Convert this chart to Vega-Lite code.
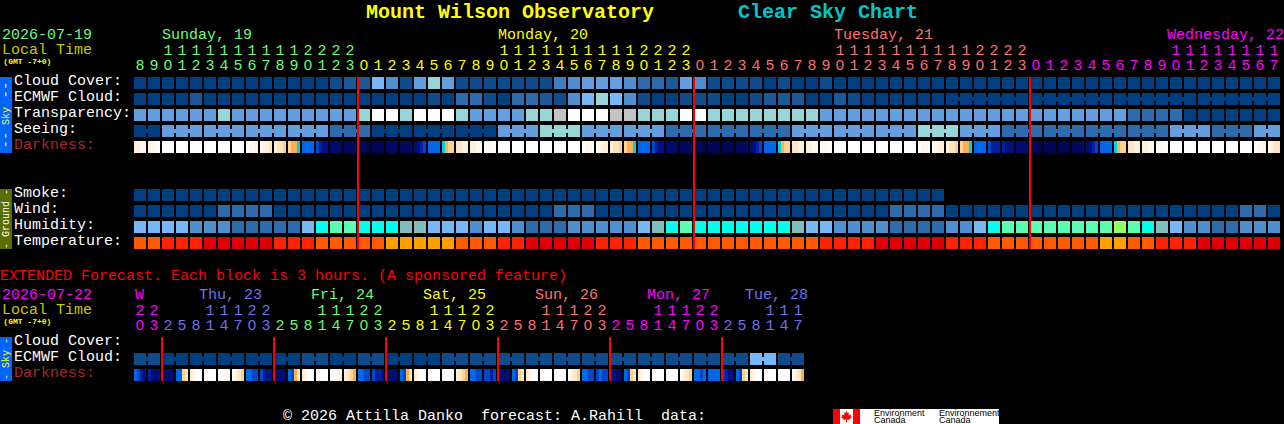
{"$schema":"https://vega.github.io/schema/vega-lite/v6.json","autosize":{"type":"none"},"width":1284,"height":424,"padding":0,"background":"#000000","config":{"view":{"stroke":null},"axis":{"disable":true}},
"datasets":{
"cells":[
{"c":0,"r":0,"k":"L0"},{"c":1,"r":0,"k":"L0"},{"c":2,"r":0,"k":"L0"},{"c":3,"r":0,"k":"L0"},{"c":4,"r":0,"k":"L0"},{"c":5,"r":0,"k":"L0"},{"c":6,"r":0,"k":"L0"},{"c":7,"r":0,"k":"L0"},{"c":8,"r":0,"k":"L0"},{"c":9,"r":0,"k":"L0"},{"c":10,"r":0,"k":"L0"},{"c":11,"r":0,"k":"L0"},{"c":12,"r":0,"k":"L0"},{"c":13,"r":0,"k":"L0"},{"c":14,"r":0,"k":"L1"},{"c":15,"r":0,"k":"L2"},{"c":16,"r":0,"k":"L2"},{"c":17,"r":0,"k":"L7"},{"c":18,"r":0,"k":"L5"},{"c":19,"r":0,"k":"L1"},{"c":20,"r":0,"k":"L6"},{"c":21,"r":0,"k":"L8"},{"c":22,"r":0,"k":"L6"},{"c":23,"r":0,"k":"L1"},{"c":24,"r":0,"k":"L1"},{"c":25,"r":0,"k":"L1"},{"c":26,"r":0,"k":"L1"},{"c":27,"r":0,"k":"L1"},{"c":28,"r":0,"k":"L1"},{"c":29,"r":0,"k":"L1"},{"c":30,"r":0,"k":"L4"},{"c":31,"r":0,"k":"L5"},{"c":32,"r":0,"k":"L6"},{"c":33,"r":0,"k":"L6"},{"c":34,"r":0,"k":"L6"},{"c":35,"r":0,"k":"L5"},{"c":36,"r":0,"k":"L3"},{"c":37,"r":0,"k":"L3"},{"c":38,"r":0,"k":"L2"},{"c":39,"r":0,"k":"L6"},{"c":40,"r":0,"k":"L5"},{"c":41,"r":0,"k":"L1"},{"c":42,"r":0,"k":"L1"},{"c":43,"r":0,"k":"L1"},{"c":44,"r":0,"k":"L1"},{"c":45,"r":0,"k":"L0"},{"c":46,"r":0,"k":"L1"},{"c":47,"r":0,"k":"L0"},{"c":48,"r":0,"k":"L0"},{"c":49,"r":0,"k":"L1"},{"c":50,"r":0,"k":"L0"},{"c":51,"r":0,"k":"L0"},{"c":52,"r":0,"k":"L0"},{"c":53,"r":0,"k":"L0"},{"c":54,"r":0,"k":"L0"},{"c":55,"r":0,"k":"L0"},{"c":56,"r":0,"k":"L0"},{"c":57,"r":0,"k":"L0"},{"c":58,"r":0,"k":"L0"},{"c":59,"r":0,"k":"L0"},{"c":60,"r":0,"k":"L0"},{"c":61,"r":0,"k":"L0"},{"c":62,"r":0,"k":"L0"},{"c":63,"r":0,"k":"L0"},{"c":64,"r":0,"k":"L0"},{"c":65,"r":0,"k":"L0"},{"c":66,"r":0,"k":"L0"},{"c":67,"r":0,"k":"L0"},{"c":68,"r":0,"k":"L0"},{"c":69,"r":0,"k":"L0"},{"c":70,"r":0,"k":"L0"},{"c":71,"r":0,"k":"L0"},{"c":72,"r":0,"k":"L0"},{"c":73,"r":0,"k":"L0"},{"c":74,"r":0,"k":"L0"},{"c":75,"r":0,"k":"L0"},{"c":76,"r":0,"k":"L0"},{"c":77,"r":0,"k":"L0"},{"c":78,"r":0,"k":"L0"},{"c":79,"r":0,"k":"L0"},{"c":80,"r":0,"k":"L0"},{"c":81,"r":0,"k":"L0"},
{"c":0,"r":1,"k":"L0"},{"c":1,"r":1,"k":"L0"},{"c":2,"r":1,"k":"L0"},{"c":3,"r":1,"k":"L0"},{"c":4,"r":1,"k":"L2"},{"c":5,"r":1,"k":"L0"},{"c":6,"r":1,"k":"L0"},{"c":7,"r":1,"k":"L0"},{"c":8,"r":1,"k":"L0"},{"c":9,"r":1,"k":"L0"},{"c":10,"r":1,"k":"L0"},{"c":11,"r":1,"k":"L0"},{"c":12,"r":1,"k":"L0"},{"c":13,"r":1,"k":"L0"},{"c":14,"r":1,"k":"L0"},{"c":15,"r":1,"k":"L0"},{"c":16,"r":1,"k":"L0"},{"c":17,"r":1,"k":"L0"},{"c":18,"r":1,"k":"L0"},{"c":19,"r":1,"k":"L0"},{"c":20,"r":1,"k":"L0"},{"c":21,"r":1,"k":"L1"},{"c":22,"r":1,"k":"L0"},{"c":23,"r":1,"k":"L3"},{"c":24,"r":1,"k":"L3"},{"c":25,"r":1,"k":"L1"},{"c":26,"r":1,"k":"L0"},{"c":27,"r":1,"k":"L3"},{"c":28,"r":1,"k":"L3"},{"c":29,"r":1,"k":"L2"},{"c":30,"r":1,"k":"L1"},{"c":31,"r":1,"k":"L5"},{"c":32,"r":1,"k":"L7"},{"c":33,"r":1,"k":"L8"},{"c":34,"r":1,"k":"L7"},{"c":35,"r":1,"k":"L5"},{"c":36,"r":1,"k":"L1"},{"c":37,"r":1,"k":"L0"},{"c":38,"r":1,"k":"L0"},{"c":39,"r":1,"k":"L1"},{"c":40,"r":1,"k":"L1"},{"c":41,"r":1,"k":"L1"},{"c":42,"r":1,"k":"L0"},{"c":43,"r":1,"k":"L0"},{"c":44,"r":1,"k":"L1"},{"c":45,"r":1,"k":"L2"},{"c":46,"r":1,"k":"L2"},{"c":47,"r":1,"k":"L2"},{"c":48,"r":1,"k":"L0"},{"c":49,"r":1,"k":"L0"},{"c":50,"r":1,"k":"L2"},{"c":51,"r":1,"k":"L1"},{"c":52,"r":1,"k":"L0"},{"c":53,"r":1,"k":"L0"},{"c":54,"r":1,"k":"L0"},{"c":55,"r":1,"k":"L0"},{"c":56,"r":1,"k":"L0"},{"c":57,"r":1,"k":"L0"},{"c":58,"r":1,"k":"L0","j":1},{"c":59,"r":1,"k":"L0","j":1},{"c":60,"r":1,"k":"L0","j":1},{"c":61,"r":1,"k":"L0","j":1},{"c":62,"r":1,"k":"L0","j":1},{"c":63,"r":1,"k":"L0"},{"c":64,"r":1,"k":"L0","j":1},{"c":65,"r":1,"k":"L0","j":1},{"c":66,"r":1,"k":"L0","j":1},{"c":67,"r":1,"k":"L0","j":1},{"c":68,"r":1,"k":"L0","j":1},{"c":69,"r":1,"k":"L0"},{"c":70,"r":1,"k":"L0","j":1},{"c":71,"r":1,"k":"L0","j":1},{"c":72,"r":1,"k":"L0","j":1},{"c":73,"r":1,"k":"L0","j":1},{"c":74,"r":1,"k":"L0","j":1},{"c":75,"r":1,"k":"L0"},{"c":76,"r":1,"k":"L0","j":1},{"c":77,"r":1,"k":"L0","j":1},{"c":78,"r":1,"k":"L0","j":1},{"c":79,"r":1,"k":"L0","j":1},{"c":80,"r":1,"k":"L0","j":1},{"c":81,"r":1,"k":"L0"},
{"c":0,"r":2,"k":"L6"},{"c":1,"r":2,"k":"L6"},{"c":2,"r":2,"k":"L6"},{"c":3,"r":2,"k":"L6"},{"c":4,"r":2,"k":"L6"},{"c":5,"r":2,"k":"L6"},{"c":6,"r":2,"k":"L8"},{"c":7,"r":2,"k":"L6"},{"c":8,"r":2,"k":"L6"},{"c":9,"r":2,"k":"L6"},{"c":10,"r":2,"k":"L6"},{"c":11,"r":2,"k":"L6"},{"c":12,"r":2,"k":"L6"},{"c":13,"r":2,"k":"L6"},{"c":14,"r":2,"k":"L6"},{"c":15,"r":2,"k":"L6"},{"c":16,"r":2,"k":"L8"},{"c":17,"r":2,"k":"L10"},{"c":18,"r":2,"k":"L10"},{"c":19,"r":2,"k":"L8"},{"c":20,"r":2,"k":"L10"},{"c":21,"r":2,"k":"L10"},{"c":22,"r":2,"k":"L10"},{"c":23,"r":2,"k":"L8"},{"c":24,"r":2,"k":"L6"},{"c":25,"r":2,"k":"L6"},{"c":26,"r":2,"k":"L6"},{"c":27,"r":2,"k":"L6"},{"c":28,"r":2,"k":"L8"},{"c":29,"r":2,"k":"L8"},{"c":30,"r":2,"k":"L9"},{"c":31,"r":2,"k":"L10"},{"c":32,"r":2,"k":"L10"},{"c":33,"r":2,"k":"L10"},{"c":34,"r":2,"k":"L9"},{"c":35,"r":2,"k":"L9"},{"c":36,"r":2,"k":"L8"},{"c":37,"r":2,"k":"L8"},{"c":38,"r":2,"k":"L8"},{"c":39,"r":2,"k":"L10"},{"c":40,"r":2,"k":"L10"},{"c":41,"r":2,"k":"L8"},{"c":42,"r":2,"k":"L8"},{"c":43,"r":2,"k":"L8"},{"c":44,"r":2,"k":"L8"},{"c":45,"r":2,"k":"L8"},{"c":46,"r":2,"k":"L8"},{"c":47,"r":2,"k":"L8"},{"c":48,"r":2,"k":"L8"},{"c":49,"r":2,"k":"L6"},{"c":50,"r":2,"k":"L6"},{"c":51,"r":2,"k":"L6"},{"c":52,"r":2,"k":"L6"},{"c":53,"r":2,"k":"L6"},{"c":54,"r":2,"k":"L6"},{"c":55,"r":2,"k":"L6"},{"c":56,"r":2,"k":"L6"},{"c":57,"r":2,"k":"L6"},{"c":58,"r":2,"k":"L6"},{"c":59,"r":2,"k":"L6"},{"c":60,"r":2,"k":"L6"},{"c":61,"r":2,"k":"L6"},{"c":62,"r":2,"k":"L6"},{"c":63,"r":2,"k":"L6"},{"c":64,"r":2,"k":"L6"},{"c":65,"r":2,"k":"L6"},{"c":66,"r":2,"k":"L6"},{"c":67,"r":2,"k":"L6"},{"c":68,"r":2,"k":"L6"},{"c":69,"r":2,"k":"L6"},{"c":70,"r":2,"k":"L6"},{"c":71,"r":2,"k":"L3"},{"c":72,"r":2,"k":"L3"},{"c":73,"r":2,"k":"L3"},{"c":74,"r":2,"k":"L3"},{"c":75,"r":2,"k":"L0"},{"c":76,"r":2,"k":"L0"},{"c":77,"r":2,"k":"L0"},{"c":78,"r":2,"k":"L0"},{"c":79,"r":2,"k":"L0"},{"c":80,"r":2,"k":"L0"},{"c":81,"r":2,"k":"L0"},
{"c":0,"r":3,"k":"L0","j":1},{"c":1,"r":3,"k":"L0"},{"c":2,"r":3,"k":"L6","j":1},{"c":3,"r":3,"k":"L6","j":1},{"c":4,"r":3,"k":"L6"},{"c":5,"r":3,"k":"L6","j":1},{"c":6,"r":3,"k":"L6","j":1},{"c":7,"r":3,"k":"L6"},{"c":8,"r":3,"k":"L6","j":1},{"c":9,"r":3,"k":"L6","j":1},{"c":10,"r":3,"k":"L6"},{"c":11,"r":3,"k":"L6","j":1},{"c":12,"r":3,"k":"L6","j":1},{"c":13,"r":3,"k":"L6"},{"c":14,"r":3,"k":"L3","j":1},{"c":15,"r":3,"k":"L3","j":1},{"c":16,"r":3,"k":"L3"},{"c":17,"r":3,"k":"L0","j":1},{"c":18,"r":3,"k":"L0","j":1},{"c":19,"r":3,"k":"L0"},{"c":20,"r":3,"k":"L0","j":1},{"c":21,"r":3,"k":"L0","j":1},{"c":22,"r":3,"k":"L0"},{"c":23,"r":3,"k":"L0","j":1},{"c":24,"r":3,"k":"L0","j":1},{"c":25,"r":3,"k":"L0"},{"c":26,"r":3,"k":"L6","j":1},{"c":27,"r":3,"k":"L6","j":1},{"c":28,"r":3,"k":"L6"},{"c":29,"r":3,"k":"L8","j":1},{"c":30,"r":3,"k":"L8","j":1},{"c":31,"r":3,"k":"L8"},{"c":32,"r":3,"k":"L6","j":1},{"c":33,"r":3,"k":"L6","j":1},{"c":34,"r":3,"k":"L6"},{"c":35,"r":3,"k":"L6","j":1},{"c":36,"r":3,"k":"L6","j":1},{"c":37,"r":3,"k":"L6"},{"c":38,"r":3,"k":"L3","j":1},{"c":39,"r":3,"k":"L3","j":1},{"c":40,"r":3,"k":"L3"},{"c":41,"r":3,"k":"L3","j":1},{"c":42,"r":3,"k":"L3","j":1},{"c":43,"r":3,"k":"L3"},{"c":44,"r":3,"k":"L3","j":1},{"c":45,"r":3,"k":"L3","j":1},{"c":46,"r":3,"k":"L3"},{"c":47,"r":3,"k":"L6","j":1},{"c":48,"r":3,"k":"L6","j":1},{"c":49,"r":3,"k":"L6"},{"c":50,"r":3,"k":"L6","j":1},{"c":51,"r":3,"k":"L6","j":1},{"c":52,"r":3,"k":"L6"},{"c":53,"r":3,"k":"L6","j":1},{"c":54,"r":3,"k":"L6","j":1},{"c":55,"r":3,"k":"L6"},{"c":56,"r":3,"k":"L8","j":1},{"c":57,"r":3,"k":"L8","j":1},{"c":58,"r":3,"k":"L8"},{"c":59,"r":3,"k":"L6","j":1},{"c":60,"r":3,"k":"L6","j":1},{"c":61,"r":3,"k":"L6"},{"c":62,"r":3,"k":"L3","j":1},{"c":63,"r":3,"k":"L3","j":1},{"c":64,"r":3,"k":"L3"},{"c":65,"r":3,"k":"L3","j":1},{"c":66,"r":3,"k":"L3","j":1},{"c":67,"r":3,"k":"L3"},{"c":68,"r":3,"k":"L3","j":1},{"c":69,"r":3,"k":"L3","j":1},{"c":70,"r":3,"k":"L3"},{"c":71,"r":3,"k":"L3","j":1},{"c":72,"r":3,"k":"L3","j":1},{"c":73,"r":3,"k":"L3"},{"c":74,"r":3,"k":"L6","j":1},{"c":75,"r":3,"k":"L6","j":1},{"c":76,"r":3,"k":"L6"},{"c":77,"r":3,"k":"L3","j":1},{"c":78,"r":3,"k":"L3","j":1},{"c":79,"r":3,"k":"L3"},{"c":80,"r":3,"k":"L6","j":1},{"c":81,"r":3,"k":"L6"},
{"c":2,"r":4,"k":"D0"},{"c":3,"r":4,"k":"D0"},{"c":4,"r":4,"k":"D0"},{"c":5,"r":4,"k":"D0"},{"c":6,"r":4,"k":"D0"},{"c":7,"r":4,"k":"D0"},{"c":12,"r":4,"k":"D7"},{"c":14,"r":4,"k":"D11"},{"c":15,"r":4,"k":"D12"},{"c":16,"r":4,"k":"D13"},{"c":17,"r":4,"k":"D13"},{"c":18,"r":4,"k":"D12"},{"c":19,"r":4,"k":"D12"},{"c":21,"r":4,"k":"D7"},{"c":26,"r":4,"k":"D0"},{"c":27,"r":4,"k":"D0"},{"c":28,"r":4,"k":"D0"},{"c":29,"r":4,"k":"D0"},{"c":30,"r":4,"k":"D0"},{"c":31,"r":4,"k":"D0"},{"c":36,"r":4,"k":"D7"},{"c":38,"r":4,"k":"D11"},{"c":39,"r":4,"k":"D12"},{"c":40,"r":4,"k":"D13"},{"c":41,"r":4,"k":"D13"},{"c":42,"r":4,"k":"D13"},{"c":43,"r":4,"k":"D12"},{"c":45,"r":4,"k":"D7"},{"c":50,"r":4,"k":"D0"},{"c":51,"r":4,"k":"D0"},{"c":52,"r":4,"k":"D0"},{"c":53,"r":4,"k":"D0"},{"c":54,"r":4,"k":"D0"},{"c":55,"r":4,"k":"D0"},{"c":60,"r":4,"k":"D7"},{"c":63,"r":4,"k":"D11"},{"c":64,"r":4,"k":"D13"},{"c":65,"r":4,"k":"D13"},{"c":66,"r":4,"k":"D13"},{"c":67,"r":4,"k":"D12"},{"c":69,"r":4,"k":"D7"},{"c":74,"r":4,"k":"D0"},{"c":75,"r":4,"k":"D0"},{"c":76,"r":4,"k":"D0"},{"c":77,"r":4,"k":"D0"},{"c":78,"r":4,"k":"D0"},{"c":79,"r":4,"k":"D0"},
{"c":0,"r":7,"k":"L0"},{"c":1,"r":7,"k":"L0"},{"c":2,"r":7,"k":"L0"},{"c":3,"r":7,"k":"L0"},{"c":4,"r":7,"k":"L0"},{"c":5,"r":7,"k":"L0"},{"c":6,"r":7,"k":"L0"},{"c":7,"r":7,"k":"L0"},{"c":8,"r":7,"k":"L0"},{"c":9,"r":7,"k":"L0"},{"c":10,"r":7,"k":"L0"},{"c":11,"r":7,"k":"L0"},{"c":12,"r":7,"k":"L0"},{"c":13,"r":7,"k":"L0"},{"c":14,"r":7,"k":"L0"},{"c":15,"r":7,"k":"L0"},{"c":16,"r":7,"k":"L0"},{"c":17,"r":7,"k":"L0"},{"c":18,"r":7,"k":"L0"},{"c":19,"r":7,"k":"L0"},{"c":20,"r":7,"k":"L0"},{"c":21,"r":7,"k":"L0"},{"c":22,"r":7,"k":"L0"},{"c":23,"r":7,"k":"L0"},{"c":24,"r":7,"k":"L0"},{"c":25,"r":7,"k":"L0"},{"c":26,"r":7,"k":"L0"},{"c":27,"r":7,"k":"L0"},{"c":28,"r":7,"k":"L0"},{"c":29,"r":7,"k":"L0"},{"c":30,"r":7,"k":"L0"},{"c":31,"r":7,"k":"L0"},{"c":32,"r":7,"k":"L0"},{"c":33,"r":7,"k":"L0"},{"c":34,"r":7,"k":"L0"},{"c":35,"r":7,"k":"L0"},{"c":36,"r":7,"k":"L0"},{"c":37,"r":7,"k":"L0"},{"c":38,"r":7,"k":"L0"},{"c":39,"r":7,"k":"L0"},{"c":40,"r":7,"k":"L0"},{"c":41,"r":7,"k":"L0"},{"c":42,"r":7,"k":"L0"},{"c":43,"r":7,"k":"L0"},{"c":44,"r":7,"k":"L0"},{"c":45,"r":7,"k":"L0"},{"c":46,"r":7,"k":"L0"},{"c":47,"r":7,"k":"L0"},{"c":48,"r":7,"k":"L0"},{"c":49,"r":7,"k":"L0"},{"c":50,"r":7,"k":"L0"},{"c":51,"r":7,"k":"L0"},{"c":52,"r":7,"k":"L0"},{"c":53,"r":7,"k":"L0"},{"c":54,"r":7,"k":"L0"},{"c":55,"r":7,"k":"L0"},{"c":56,"r":7,"k":"L0"},{"c":57,"r":7,"k":"L0"},
{"c":0,"r":8,"k":"L0"},{"c":1,"r":8,"k":"L0"},{"c":2,"r":8,"k":"L0"},{"c":3,"r":8,"k":"L0"},{"c":4,"r":8,"k":"L0"},{"c":5,"r":8,"k":"L0"},{"c":6,"r":8,"k":"L3"},{"c":7,"r":8,"k":"L3"},{"c":8,"r":8,"k":"L3"},{"c":9,"r":8,"k":"L3"},{"c":10,"r":8,"k":"L0"},{"c":11,"r":8,"k":"L0"},{"c":12,"r":8,"k":"L0"},{"c":13,"r":8,"k":"L0"},{"c":14,"r":8,"k":"L0"},{"c":15,"r":8,"k":"L0"},{"c":16,"r":8,"k":"L0"},{"c":17,"r":8,"k":"L0"},{"c":18,"r":8,"k":"L0"},{"c":19,"r":8,"k":"L0"},{"c":20,"r":8,"k":"L0"},{"c":21,"r":8,"k":"L0"},{"c":22,"r":8,"k":"L0"},{"c":23,"r":8,"k":"L0"},{"c":24,"r":8,"k":"L0"},{"c":25,"r":8,"k":"L0"},{"c":26,"r":8,"k":"L0"},{"c":27,"r":8,"k":"L0"},{"c":28,"r":8,"k":"L0"},{"c":29,"r":8,"k":"L0"},{"c":30,"r":8,"k":"L3"},{"c":31,"r":8,"k":"L3"},{"c":32,"r":8,"k":"L3"},{"c":33,"r":8,"k":"L0"},{"c":34,"r":8,"k":"L0"},{"c":35,"r":8,"k":"L0"},{"c":36,"r":8,"k":"L0"},{"c":37,"r":8,"k":"L0"},{"c":38,"r":8,"k":"L0"},{"c":39,"r":8,"k":"L0"},{"c":40,"r":8,"k":"L0"},{"c":41,"r":8,"k":"L0"},{"c":42,"r":8,"k":"L0"},{"c":43,"r":8,"k":"L0"},{"c":44,"r":8,"k":"L0"},{"c":45,"r":8,"k":"L0"},{"c":46,"r":8,"k":"L0"},{"c":47,"r":8,"k":"L0"},{"c":48,"r":8,"k":"L0"},{"c":49,"r":8,"k":"L0"},{"c":50,"r":8,"k":"L0"},{"c":51,"r":8,"k":"L0"},{"c":52,"r":8,"k":"L0"},{"c":53,"r":8,"k":"L0"},{"c":54,"r":8,"k":"L3"},{"c":55,"r":8,"k":"L3"},{"c":56,"r":8,"k":"L3"},{"c":57,"r":8,"k":"L3"},{"c":58,"r":8,"k":"L0"},{"c":59,"r":8,"k":"L0"},{"c":60,"r":8,"k":"L0"},{"c":61,"r":8,"k":"L0"},{"c":62,"r":8,"k":"L0"},{"c":63,"r":8,"k":"L0"},{"c":64,"r":8,"k":"L0"},{"c":65,"r":8,"k":"L0"},{"c":66,"r":8,"k":"L0"},{"c":67,"r":8,"k":"L0"},{"c":68,"r":8,"k":"L0"},{"c":69,"r":8,"k":"L0"},{"c":70,"r":8,"k":"L0"},{"c":71,"r":8,"k":"L0"},{"c":72,"r":8,"k":"L0"},{"c":73,"r":8,"k":"L0"},{"c":74,"r":8,"k":"L0"},{"c":75,"r":8,"k":"L0"},{"c":76,"r":8,"k":"L0"},{"c":77,"r":8,"k":"L0"},{"c":78,"r":8,"k":"L0"},{"c":79,"r":8,"k":"L3"},{"c":80,"r":8,"k":"L3"},{"c":81,"r":8,"k":"L0"},
{"c":0,"r":9,"k":"L7"},{"c":1,"r":9,"k":"L7"},{"c":2,"r":9,"k":"L7"},{"c":3,"r":9,"k":"L7"},{"c":4,"r":9,"k":"L5"},{"c":5,"r":9,"k":"L5"},{"c":6,"r":9,"k":"L5"},{"c":7,"r":9,"k":"L3"},{"c":8,"r":9,"k":"L3"},{"c":9,"r":9,"k":"L3"},{"c":10,"r":9,"k":"L3"},{"c":11,"r":9,"k":"L3"},{"c":12,"r":9,"k":"L7"},{"c":13,"r":9,"k":"H1"},{"c":14,"r":9,"k":"H2"},{"c":15,"r":9,"k":"H2"},{"c":16,"r":9,"k":"H1"},{"c":17,"r":9,"k":"H1"},{"c":18,"r":9,"k":"H1"},{"c":19,"r":9,"k":"H0"},{"c":20,"r":9,"k":"H0"},{"c":21,"r":9,"k":"L7"},{"c":22,"r":9,"k":"L7"},{"c":23,"r":9,"k":"L7"},{"c":24,"r":9,"k":"L5"},{"c":25,"r":9,"k":"L7"},{"c":26,"r":9,"k":"L7"},{"c":27,"r":9,"k":"L5"},{"c":28,"r":9,"k":"L3"},{"c":29,"r":9,"k":"L3"},{"c":30,"r":9,"k":"L3"},{"c":31,"r":9,"k":"L5"},{"c":32,"r":9,"k":"L5"},{"c":33,"r":9,"k":"L5"},{"c":34,"r":9,"k":"L5"},{"c":35,"r":9,"k":"L5"},{"c":36,"r":9,"k":"L7"},{"c":37,"r":9,"k":"H0"},{"c":38,"r":9,"k":"H1"},{"c":39,"r":9,"k":"H2"},{"c":40,"r":9,"k":"H1"},{"c":41,"r":9,"k":"H1"},{"c":42,"r":9,"k":"H1"},{"c":43,"r":9,"k":"H1"},{"c":44,"r":9,"k":"H1"},{"c":45,"r":9,"k":"H1"},{"c":46,"r":9,"k":"H1"},{"c":47,"r":9,"k":"H0"},{"c":48,"r":9,"k":"L7"},{"c":49,"r":9,"k":"L7"},{"c":50,"r":9,"k":"L5"},{"c":51,"r":9,"k":"L5"},{"c":52,"r":9,"k":"L5"},{"c":53,"r":9,"k":"L5"},{"c":54,"r":9,"k":"L3"},{"c":55,"r":9,"k":"L3"},{"c":56,"r":9,"k":"L3"},{"c":57,"r":9,"k":"L3"},{"c":58,"r":9,"k":"L5"},{"c":59,"r":9,"k":"L5"},{"c":60,"r":9,"k":"L7"},{"c":61,"r":9,"k":"H1"},{"c":62,"r":9,"k":"H2"},{"c":63,"r":9,"k":"H2"},{"c":64,"r":9,"k":"H2"},{"c":65,"r":9,"k":"H2"},{"c":66,"r":9,"k":"H2"},{"c":67,"r":9,"k":"H2"},{"c":68,"r":9,"k":"H2"},{"c":69,"r":9,"k":"H2"},{"c":70,"r":9,"k":"H3"},{"c":71,"r":9,"k":"H2"},{"c":72,"r":9,"k":"H1"},{"c":73,"r":9,"k":"H0"},{"c":74,"r":9,"k":"L7"},{"c":75,"r":9,"k":"L5"},{"c":76,"r":9,"k":"L5"},{"c":77,"r":9,"k":"L3"},{"c":78,"r":9,"k":"L3"},{"c":79,"r":9,"k":"L5"},{"c":80,"r":9,"k":"L5"},{"c":81,"r":9,"k":"L5"},
{"c":0,"r":10,"k":"T1"},{"c":1,"r":10,"k":"T1"},{"c":2,"r":10,"k":"T2"},{"c":3,"r":10,"k":"T2"},{"c":4,"r":10,"k":"T2"},{"c":5,"r":10,"k":"T3"},{"c":6,"r":10,"k":"T3"},{"c":7,"r":10,"k":"T3"},{"c":8,"r":10,"k":"T3"},{"c":9,"r":10,"k":"T3"},{"c":10,"r":10,"k":"T2"},{"c":11,"r":10,"k":"T2"},{"c":12,"r":10,"k":"T2"},{"c":13,"r":10,"k":"T1"},{"c":14,"r":10,"k":"T1"},{"c":15,"r":10,"k":"T1"},{"c":16,"r":10,"k":"T1"},{"c":17,"r":10,"k":"T1"},{"c":18,"r":10,"k":"T0"},{"c":19,"r":10,"k":"T0"},{"c":20,"r":10,"k":"T0"},{"c":21,"r":10,"k":"T0"},{"c":22,"r":10,"k":"T0"},{"c":23,"r":10,"k":"T1"},{"c":24,"r":10,"k":"T1"},{"c":25,"r":10,"k":"T1"},{"c":26,"r":10,"k":"T2"},{"c":27,"r":10,"k":"T2"},{"c":28,"r":10,"k":"T3"},{"c":29,"r":10,"k":"T3"},{"c":30,"r":10,"k":"T3"},{"c":31,"r":10,"k":"T3"},{"c":32,"r":10,"k":"T3"},{"c":33,"r":10,"k":"T2"},{"c":34,"r":10,"k":"T2"},{"c":35,"r":10,"k":"T2"},{"c":36,"r":10,"k":"T1"},{"c":37,"r":10,"k":"T1"},{"c":38,"r":10,"k":"T1"},{"c":39,"r":10,"k":"T1"},{"c":40,"r":10,"k":"T1"},{"c":41,"r":10,"k":"T1"},{"c":42,"r":10,"k":"T1"},{"c":43,"r":10,"k":"T1"},{"c":44,"r":10,"k":"T1"},{"c":45,"r":10,"k":"T1"},{"c":46,"r":10,"k":"T1"},{"c":47,"r":10,"k":"T1"},{"c":48,"r":10,"k":"T1"},{"c":49,"r":10,"k":"T2"},{"c":50,"r":10,"k":"T2"},{"c":51,"r":10,"k":"T2"},{"c":52,"r":10,"k":"T2"},{"c":53,"r":10,"k":"T3"},{"c":54,"r":10,"k":"T3"},{"c":55,"r":10,"k":"T3"},{"c":56,"r":10,"k":"T3"},{"c":57,"r":10,"k":"T3"},{"c":58,"r":10,"k":"T2"},{"c":59,"r":10,"k":"T2"},{"c":60,"r":10,"k":"T2"},{"c":61,"r":10,"k":"T1"},{"c":62,"r":10,"k":"T1"},{"c":63,"r":10,"k":"T1"},{"c":64,"r":10,"k":"T1"},{"c":65,"r":10,"k":"T1"},{"c":66,"r":10,"k":"T1"},{"c":67,"r":10,"k":"T1"},{"c":68,"r":10,"k":"T1"},{"c":69,"r":10,"k":"T0"},{"c":70,"r":10,"k":"T0"},{"c":71,"r":10,"k":"T1"},{"c":72,"r":10,"k":"T1"},{"c":73,"r":10,"k":"T2"},{"c":74,"r":10,"k":"T2"},{"c":75,"r":10,"k":"T2"},{"c":76,"r":10,"k":"T3"},{"c":77,"r":10,"k":"T3"},{"c":78,"r":10,"k":"T3"},{"c":79,"r":10,"k":"T3"},{"c":80,"r":10,"k":"T3"},{"c":81,"r":10,"k":"T3"},
{"c":0,"r":17.25,"k":"L1","j":1},{"c":1,"r":17.25,"k":"L1"},{"c":2,"r":17.25,"k":"L0","j":1},{"c":3,"r":17.25,"k":"L0"},{"c":4,"r":17.25,"k":"L0","j":1},{"c":5,"r":17.25,"k":"L0"},{"c":6,"r":17.25,"k":"L0","j":1},{"c":7,"r":17.25,"k":"L0"},{"c":8,"r":17.25,"k":"L0","j":1},{"c":9,"r":17.25,"k":"L0"},{"c":10,"r":17.25,"k":"L0","j":1},{"c":11,"r":17.25,"k":"L0"},{"c":12,"r":17.25,"k":"L1","j":1},{"c":13,"r":17.25,"k":"L1"},{"c":14,"r":17.25,"k":"L0","j":1},{"c":15,"r":17.25,"k":"L0"},{"c":16,"r":17.25,"k":"L1","j":1},{"c":17,"r":17.25,"k":"L1"},{"c":18,"r":17.25,"k":"L0","j":1},{"c":19,"r":17.25,"k":"L0"},{"c":20,"r":17.25,"k":"L0","j":1},{"c":21,"r":17.25,"k":"L0"},{"c":22,"r":17.25,"k":"L1","j":1},{"c":23,"r":17.25,"k":"L1"},{"c":24,"r":17.25,"k":"L1","j":1},{"c":25,"r":17.25,"k":"L1"},{"c":26,"r":17.25,"k":"L1","j":1},{"c":27,"r":17.25,"k":"L1"},{"c":28,"r":17.25,"k":"L1","j":1},{"c":29,"r":17.25,"k":"L1"},{"c":30,"r":17.25,"k":"L1","j":1},{"c":31,"r":17.25,"k":"L1"},{"c":32,"r":17.25,"k":"L1","j":1},{"c":33,"r":17.25,"k":"L1"},{"c":34,"r":17.25,"k":"L1","j":1},{"c":35,"r":17.25,"k":"L1"},{"c":36,"r":17.25,"k":"L1","j":1},{"c":37,"r":17.25,"k":"L1"},{"c":38,"r":17.25,"k":"L1","j":1},{"c":39,"r":17.25,"k":"L1"},{"c":40,"r":17.25,"k":"L1","j":1},{"c":41,"r":17.25,"k":"L1"},{"c":42,"r":17.25,"k":"L1","j":1},{"c":43,"r":17.25,"k":"L1"},{"c":44,"r":17.25,"k":"L7","j":1},{"c":45,"r":17.25,"k":"L7"},{"c":46,"r":17.25,"k":"L1","j":1},{"c":47,"r":17.25,"k":"L1"},
{"c":5,"r":18.25,"k":"D0"},{"c":13,"r":18.25,"k":"D0"},{"c":21,"r":18.25,"k":"D0"},{"c":22,"r":18.25,"k":"D0"},{"c":29,"r":18.25,"k":"D0"},{"c":30,"r":18.25,"k":"D0"},{"c":37,"r":18.25,"k":"D0"},{"c":38,"r":18.25,"k":"D0"},{"c":45,"r":18.25,"k":"D0"},{"c":46,"r":18.25,"k":"D0"},{"c":2,"r":18.25,"k":"D11"},{"c":10,"r":18.25,"k":"D11"},{"c":18,"r":18.25,"k":"D11"},{"c":41,"r":18.25,"k":"D7"}
],
"dusk":[
{"c":0,"r":4,"s":0,"k":"D2"},{"c":0,"r":4,"s":1,"k":"D2"},{"c":0,"r":4,"s":2,"k":"D1"},{"c":0,"r":4,"s":3,"k":"D1"},
{"c":1,"r":4,"s":0,"k":"D2"},{"c":1,"r":4,"s":1,"k":"D1"},{"c":1,"r":4,"s":2,"k":"D1"},{"c":1,"r":4,"s":3,"k":"D0"},
{"c":8,"r":4,"s":0,"k":"D0"},{"c":8,"r":4,"s":1,"k":"D1"},{"c":8,"r":4,"s":2,"k":"D1"},{"c":8,"r":4,"s":3,"k":"D2"},
{"c":9,"r":4,"s":0,"k":"D1"},{"c":9,"r":4,"s":1,"k":"D2"},{"c":9,"r":4,"s":2,"k":"D2"},{"c":9,"r":4,"s":3,"k":"D3"},
{"c":10,"r":4,"s":0,"k":"D2"},{"c":10,"r":4,"s":1,"k":"D3"},{"c":10,"r":4,"s":2,"k":"D3"},{"c":10,"r":4,"s":3,"k":"D4"},
{"c":11,"r":4,"s":0,"k":"D4"},{"c":11,"r":4,"s":1,"k":"D5"},{"c":11,"r":4,"s":2,"k":"D5"},{"c":11,"r":4,"s":3,"k":"D6"},
{"c":13,"r":4,"s":0,"k":"D8"},{"c":13,"r":4,"s":1,"k":"D9"},{"c":13,"r":4,"s":2,"k":"D10"},{"c":13,"r":4,"s":3,"k":"D10"},
{"c":20,"r":4,"s":0,"k":"D11"},{"c":20,"r":4,"s":1,"k":"D10"},{"c":20,"r":4,"s":2,"k":"D9"},{"c":20,"r":4,"s":3,"k":"D8"},
{"c":22,"r":4,"s":0,"k":"D6"},{"c":22,"r":4,"s":1,"k":"D5"},{"c":22,"r":4,"s":2,"k":"D4"},{"c":22,"r":4,"s":3,"k":"D4"},
{"c":23,"r":4,"s":0,"k":"D3"},{"c":23,"r":4,"s":1,"k":"D3"},{"c":23,"r":4,"s":2,"k":"D2"},{"c":23,"r":4,"s":3,"k":"D2"},
{"c":24,"r":4,"s":0,"k":"D2"},{"c":24,"r":4,"s":1,"k":"D2"},{"c":24,"r":4,"s":2,"k":"D1"},{"c":24,"r":4,"s":3,"k":"D1"},
{"c":25,"r":4,"s":0,"k":"D1"},{"c":25,"r":4,"s":1,"k":"D1"},{"c":25,"r":4,"s":2,"k":"D1"},{"c":25,"r":4,"s":3,"k":"D0"},
{"c":32,"r":4,"s":0,"k":"D0"},{"c":32,"r":4,"s":1,"k":"D1"},{"c":32,"r":4,"s":2,"k":"D1"},{"c":32,"r":4,"s":3,"k":"D1"},
{"c":33,"r":4,"s":0,"k":"D1"},{"c":33,"r":4,"s":1,"k":"D1"},{"c":33,"r":4,"s":2,"k":"D2"},{"c":33,"r":4,"s":3,"k":"D2"},
{"c":34,"r":4,"s":0,"k":"D2"},{"c":34,"r":4,"s":1,"k":"D3"},{"c":34,"r":4,"s":2,"k":"D3"},{"c":34,"r":4,"s":3,"k":"D4"},
{"c":35,"r":4,"s":0,"k":"D4"},{"c":35,"r":4,"s":1,"k":"D5"},{"c":35,"r":4,"s":2,"k":"D5"},{"c":35,"r":4,"s":3,"k":"D6"},
{"c":37,"r":4,"s":0,"k":"D8"},{"c":37,"r":4,"s":1,"k":"D9"},{"c":37,"r":4,"s":2,"k":"D10"},{"c":37,"r":4,"s":3,"k":"D10"},
{"c":44,"r":4,"s":0,"k":"D11"},{"c":44,"r":4,"s":1,"k":"D10"},{"c":44,"r":4,"s":2,"k":"D9"},{"c":44,"r":4,"s":3,"k":"D8"},
{"c":46,"r":4,"s":0,"k":"D6"},{"c":46,"r":4,"s":1,"k":"D5"},{"c":46,"r":4,"s":2,"k":"D4"},{"c":46,"r":4,"s":3,"k":"D4"},
{"c":47,"r":4,"s":0,"k":"D3"},{"c":47,"r":4,"s":1,"k":"D3"},{"c":47,"r":4,"s":2,"k":"D2"},{"c":47,"r":4,"s":3,"k":"D2"},
{"c":48,"r":4,"s":0,"k":"D2"},{"c":48,"r":4,"s":1,"k":"D2"},{"c":48,"r":4,"s":2,"k":"D1"},{"c":48,"r":4,"s":3,"k":"D1"},
{"c":49,"r":4,"s":0,"k":"D1"},{"c":49,"r":4,"s":1,"k":"D1"},{"c":49,"r":4,"s":2,"k":"D1"},{"c":49,"r":4,"s":3,"k":"D0"},
{"c":56,"r":4,"s":0,"k":"D0"},{"c":56,"r":4,"s":1,"k":"D1"},{"c":56,"r":4,"s":2,"k":"D1"},{"c":56,"r":4,"s":3,"k":"D1"},
{"c":57,"r":4,"s":0,"k":"D1"},{"c":57,"r":4,"s":1,"k":"D1"},{"c":57,"r":4,"s":2,"k":"D2"},{"c":57,"r":4,"s":3,"k":"D2"},
{"c":58,"r":4,"s":0,"k":"D2"},{"c":58,"r":4,"s":1,"k":"D3"},{"c":58,"r":4,"s":2,"k":"D3"},{"c":58,"r":4,"s":3,"k":"D4"},
{"c":59,"r":4,"s":0,"k":"D4"},{"c":59,"r":4,"s":1,"k":"D5"},{"c":59,"r":4,"s":2,"k":"D5"},{"c":59,"r":4,"s":3,"k":"D6"},
{"c":61,"r":4,"s":0,"k":"D8"},{"c":61,"r":4,"s":1,"k":"D9"},{"c":61,"r":4,"s":2,"k":"D9"},{"c":61,"r":4,"s":3,"k":"D9"},
{"c":62,"r":4,"s":0,"k":"D9"},{"c":62,"r":4,"s":1,"k":"D10"},{"c":62,"r":4,"s":2,"k":"D10"},{"c":62,"r":4,"s":3,"k":"D10"},
{"c":68,"r":4,"s":0,"k":"D11"},{"c":68,"r":4,"s":1,"k":"D10"},{"c":68,"r":4,"s":2,"k":"D9"},{"c":68,"r":4,"s":3,"k":"D8"},
{"c":70,"r":4,"s":0,"k":"D6"},{"c":70,"r":4,"s":1,"k":"D5"},{"c":70,"r":4,"s":2,"k":"D4"},{"c":70,"r":4,"s":3,"k":"D4"},
{"c":71,"r":4,"s":0,"k":"D3"},{"c":71,"r":4,"s":1,"k":"D3"},{"c":71,"r":4,"s":2,"k":"D2"},{"c":71,"r":4,"s":3,"k":"D2"},
{"c":72,"r":4,"s":0,"k":"D2"},{"c":72,"r":4,"s":1,"k":"D2"},{"c":72,"r":4,"s":2,"k":"D1"},{"c":72,"r":4,"s":3,"k":"D1"},
{"c":73,"r":4,"s":0,"k":"D1"},{"c":73,"r":4,"s":1,"k":"D1"},{"c":73,"r":4,"s":2,"k":"D1"},{"c":73,"r":4,"s":3,"k":"D0"},
{"c":80,"r":4,"s":0,"k":"D0"},{"c":80,"r":4,"s":1,"k":"D1"},{"c":80,"r":4,"s":2,"k":"D1"},{"c":80,"r":4,"s":3,"k":"D2"},
{"c":81,"r":4,"s":0,"k":"D1"},{"c":81,"r":4,"s":1,"k":"D2"},{"c":81,"r":4,"s":2,"k":"D3"},{"c":81,"r":4,"s":3,"k":"D3"},
{"c":0,"r":18.25,"s":0,"k":"D7"},{"c":0,"r":18.25,"s":1,"k":"D8"},{"c":0,"r":18.25,"s":2,"k":"D9"},{"c":0,"r":18.25,"s":3,"k":"D10"},
{"c":1,"r":18.25,"s":0,"k":"D9"},{"c":1,"r":18.25,"s":1,"k":"D10"},{"c":1,"r":18.25,"s":2,"k":"D11"},{"c":1,"r":18.25,"s":3,"k":"D10"},
{"c":3,"r":18.25,"s":0,"k":"D7"},{"c":3,"r":18.25,"s":1,"k":"D7"},{"c":3,"r":18.25,"s":2,"k":"D4"},{"c":3,"r":18.25,"s":3,"k":"D3"},
{"c":4,"r":18.25,"s":0,"k":"D2"},{"c":4,"r":18.25,"s":1,"k":"D1"},{"c":4,"r":18.25,"s":2,"k":"D0"},{"c":4,"r":18.25,"s":3,"k":"D0"},
{"c":6,"r":18.25,"s":0,"k":"D0"},{"c":6,"r":18.25,"s":1,"k":"D0"},{"c":6,"r":18.25,"s":2,"k":"D1"},{"c":6,"r":18.25,"s":3,"k":"D1"},
{"c":7,"r":18.25,"s":0,"k":"D1"},{"c":7,"r":18.25,"s":1,"k":"D2"},{"c":7,"r":18.25,"s":2,"k":"D3"},{"c":7,"r":18.25,"s":3,"k":"D4"},
{"c":8,"r":18.25,"s":0,"k":"D7"},{"c":8,"r":18.25,"s":1,"k":"D7"},{"c":8,"r":18.25,"s":2,"k":"D8"},{"c":8,"r":18.25,"s":3,"k":"D8"},
{"c":9,"r":18.25,"s":0,"k":"D8"},{"c":9,"r":18.25,"s":1,"k":"D9"},{"c":9,"r":18.25,"s":2,"k":"D10"},{"c":9,"r":18.25,"s":3,"k":"D10"},
{"c":11,"r":18.25,"s":0,"k":"D7"},{"c":11,"r":18.25,"s":1,"k":"D8"},{"c":11,"r":18.25,"s":2,"k":"D5"},{"c":11,"r":18.25,"s":3,"k":"D3"},
{"c":12,"r":18.25,"s":0,"k":"D2"},{"c":12,"r":18.25,"s":1,"k":"D1"},{"c":12,"r":18.25,"s":2,"k":"D0"},{"c":12,"r":18.25,"s":3,"k":"D0"},
{"c":14,"r":18.25,"s":0,"k":"D0"},{"c":14,"r":18.25,"s":1,"k":"D1"},{"c":14,"r":18.25,"s":2,"k":"D1"},{"c":14,"r":18.25,"s":3,"k":"D2"},
{"c":15,"r":18.25,"s":0,"k":"D2"},{"c":15,"r":18.25,"s":1,"k":"D3"},{"c":15,"r":18.25,"s":2,"k":"D4"},{"c":15,"r":18.25,"s":3,"k":"D5"},
{"c":16,"r":18.25,"s":0,"k":"D7"},{"c":16,"r":18.25,"s":1,"k":"D7"},{"c":16,"r":18.25,"s":2,"k":"D8"},{"c":16,"r":18.25,"s":3,"k":"D8"},
{"c":17,"r":18.25,"s":0,"k":"D8"},{"c":17,"r":18.25,"s":1,"k":"D9"},{"c":17,"r":18.25,"s":2,"k":"D9"},{"c":17,"r":18.25,"s":3,"k":"D10"},
{"c":19,"r":18.25,"s":0,"k":"D7"},{"c":19,"r":18.25,"s":1,"k":"D8"},{"c":19,"r":18.25,"s":2,"k":"D5"},{"c":19,"r":18.25,"s":3,"k":"D3"},
{"c":20,"r":18.25,"s":0,"k":"D2"},{"c":20,"r":18.25,"s":1,"k":"D1"},{"c":20,"r":18.25,"s":2,"k":"D0"},{"c":20,"r":18.25,"s":3,"k":"D0"},
{"c":23,"r":18.25,"s":0,"k":"D2"},{"c":23,"r":18.25,"s":1,"k":"D3"},{"c":23,"r":18.25,"s":2,"k":"D4"},{"c":23,"r":18.25,"s":3,"k":"D5"},
{"c":24,"r":18.25,"s":0,"k":"D7"},{"c":24,"r":18.25,"s":1,"k":"D7"},{"c":24,"r":18.25,"s":2,"k":"D8"},{"c":24,"r":18.25,"s":3,"k":"D8"},
{"c":25,"r":18.25,"s":0,"k":"D8"},{"c":25,"r":18.25,"s":1,"k":"D8"},{"c":25,"r":18.25,"s":2,"k":"D9"},{"c":25,"r":18.25,"s":3,"k":"D8"},
{"c":26,"r":18.25,"s":0,"k":"D10"},{"c":26,"r":18.25,"s":1,"k":"D11"},{"c":26,"r":18.25,"s":2,"k":"D11"},{"c":26,"r":18.25,"s":3,"k":"D10"},
{"c":27,"r":18.25,"s":0,"k":"D7"},{"c":27,"r":18.25,"s":1,"k":"D8"},{"c":27,"r":18.25,"s":2,"k":"D4"},{"c":27,"r":18.25,"s":3,"k":"D3"},
{"c":28,"r":18.25,"s":0,"k":"D2"},{"c":28,"r":18.25,"s":1,"k":"D1"},{"c":28,"r":18.25,"s":2,"k":"D0"},{"c":28,"r":18.25,"s":3,"k":"D0"},
{"c":31,"r":18.25,"s":0,"k":"D1"},{"c":31,"r":18.25,"s":1,"k":"D2"},{"c":31,"r":18.25,"s":2,"k":"D3"},{"c":31,"r":18.25,"s":3,"k":"D4"},
{"c":32,"r":18.25,"s":0,"k":"D7"},{"c":32,"r":18.25,"s":1,"k":"D7"},{"c":32,"r":18.25,"s":2,"k":"D8"},{"c":32,"r":18.25,"s":3,"k":"D8"},
{"c":33,"r":18.25,"s":0,"k":"D8"},{"c":33,"r":18.25,"s":1,"k":"D7"},{"c":33,"r":18.25,"s":2,"k":"D8"},{"c":33,"r":18.25,"s":3,"k":"D8"},
{"c":34,"r":18.25,"s":0,"k":"D9"},{"c":34,"r":18.25,"s":1,"k":"D10"},{"c":34,"r":18.25,"s":2,"k":"D11"},{"c":34,"r":18.25,"s":3,"k":"D11"},
{"c":35,"r":18.25,"s":0,"k":"D7"},{"c":35,"r":18.25,"s":1,"k":"D8"},{"c":35,"r":18.25,"s":2,"k":"D4"},{"c":35,"r":18.25,"s":3,"k":"D3"},
{"c":36,"r":18.25,"s":0,"k":"D2"},{"c":36,"r":18.25,"s":1,"k":"D1"},{"c":36,"r":18.25,"s":2,"k":"D0"},{"c":36,"r":18.25,"s":3,"k":"D0"},
{"c":39,"r":18.25,"s":0,"k":"D1"},{"c":39,"r":18.25,"s":1,"k":"D2"},{"c":39,"r":18.25,"s":2,"k":"D3"},{"c":39,"r":18.25,"s":3,"k":"D4"},
{"c":40,"r":18.25,"s":0,"k":"D7"},{"c":40,"r":18.25,"s":1,"k":"D7"},{"c":40,"r":18.25,"s":2,"k":"D8"},{"c":40,"r":18.25,"s":3,"k":"D7"},
{"c":42,"r":18.25,"s":0,"k":"D8"},{"c":42,"r":18.25,"s":1,"k":"D9"},{"c":42,"r":18.25,"s":2,"k":"D10"},{"c":42,"r":18.25,"s":3,"k":"D10"},
{"c":43,"r":18.25,"s":0,"k":"D7"},{"c":43,"r":18.25,"s":1,"k":"D8"},{"c":43,"r":18.25,"s":2,"k":"D4"},{"c":43,"r":18.25,"s":3,"k":"D3"},
{"c":44,"r":18.25,"s":0,"k":"D2"},{"c":44,"r":18.25,"s":1,"k":"D1"},{"c":44,"r":18.25,"s":2,"k":"D0"},{"c":44,"r":18.25,"s":3,"k":"D0"},
{"c":47,"r":18.25,"s":0,"k":"D1"},{"c":47,"r":18.25,"s":1,"k":"D2"},{"c":47,"r":18.25,"s":2,"k":"D3"},{"c":47,"r":18.25,"s":3,"k":"D5"}
],
"bands":[{"c":-9.5714286,"r":-0.375,"r2":4.375,"k":"blue"},{"c":-9.5714286,"r":6.625,"r2":10.375,"k":"olive"},{"c":-9.5714286,"r":15.875,"r2":18.625,"k":"blue"}],
"nights":[{"c":16,"r":-0.375,"r2":10.375,"k":"red"},{"c":40,"r":-0.375,"r2":10.375,"k":"red"},{"c":64,"r":-0.375,"r2":10.375,"k":"red"},{"c":2,"r":15.875,"r2":18.625,"k":"red"},{"c":10,"r":15.875,"r2":18.625,"k":"red"},{"c":18,"r":15.875,"r2":18.625,"k":"red"},{"c":26,"r":15.875,"r2":18.625,"k":"red"},{"c":34,"r":15.875,"r2":18.625,"k":"red"},{"c":42,"r":15.875,"r2":18.625,"k":"red"}],
"logo":[{"c":49.5,"c2":61.3571429,"r":20.375,"r2":21.3125,"k":"white"},{"c":49.5,"c2":50,"r":20.375,"r2":21.3125,"k":"red"},{"c":50.9285714,"c2":51.4285714,"r":20.375,"r2":21.3125,"k":"red"}],
"leaf":[{"c":50.464,"r":20.84,"k":"red"}],
"hours":[
{"c":2,"r":-2.0625,"t":"1","k":"sun"},{"c":3,"r":-2.0625,"t":"1","k":"sun"},{"c":4,"r":-2.0625,"t":"1","k":"sun"},{"c":5,"r":-2.0625,"t":"1","k":"sun"},{"c":6,"r":-2.0625,"t":"1","k":"sun"},{"c":7,"r":-2.0625,"t":"1","k":"sun"},{"c":8,"r":-2.0625,"t":"1","k":"sun"},{"c":9,"r":-2.0625,"t":"1","k":"sun"},{"c":10,"r":-2.0625,"t":"1","k":"sun"},{"c":11,"r":-2.0625,"t":"1","k":"sun"},{"c":12,"r":-2.0625,"t":"2","k":"sun"},{"c":13,"r":-2.0625,"t":"2","k":"sun"},{"c":14,"r":-2.0625,"t":"2","k":"sun"},{"c":15,"r":-2.0625,"t":"2","k":"sun"},
{"c":26,"r":-2.0625,"t":"1","k":"mon"},{"c":27,"r":-2.0625,"t":"1","k":"mon"},{"c":28,"r":-2.0625,"t":"1","k":"mon"},{"c":29,"r":-2.0625,"t":"1","k":"mon"},{"c":30,"r":-2.0625,"t":"1","k":"mon"},{"c":31,"r":-2.0625,"t":"1","k":"mon"},{"c":32,"r":-2.0625,"t":"1","k":"mon"},{"c":33,"r":-2.0625,"t":"1","k":"mon"},{"c":34,"r":-2.0625,"t":"1","k":"mon"},{"c":35,"r":-2.0625,"t":"1","k":"mon"},{"c":36,"r":-2.0625,"t":"2","k":"mon"},{"c":37,"r":-2.0625,"t":"2","k":"mon"},{"c":38,"r":-2.0625,"t":"2","k":"mon"},{"c":39,"r":-2.0625,"t":"2","k":"mon"},
{"c":50,"r":-2.0625,"t":"1","k":"tue"},{"c":51,"r":-2.0625,"t":"1","k":"tue"},{"c":52,"r":-2.0625,"t":"1","k":"tue"},{"c":53,"r":-2.0625,"t":"1","k":"tue"},{"c":54,"r":-2.0625,"t":"1","k":"tue"},{"c":55,"r":-2.0625,"t":"1","k":"tue"},{"c":56,"r":-2.0625,"t":"1","k":"tue"},{"c":57,"r":-2.0625,"t":"1","k":"tue"},{"c":58,"r":-2.0625,"t":"1","k":"tue"},{"c":59,"r":-2.0625,"t":"1","k":"tue"},{"c":60,"r":-2.0625,"t":"2","k":"tue"},{"c":61,"r":-2.0625,"t":"2","k":"tue"},{"c":62,"r":-2.0625,"t":"2","k":"tue"},{"c":63,"r":-2.0625,"t":"2","k":"tue"},
{"c":74,"r":-2.0625,"t":"1","k":"wed"},{"c":75,"r":-2.0625,"t":"1","k":"wed"},{"c":76,"r":-2.0625,"t":"1","k":"wed"},{"c":77,"r":-2.0625,"t":"1","k":"wed"},{"c":78,"r":-2.0625,"t":"1","k":"wed"},{"c":79,"r":-2.0625,"t":"1","k":"wed"},{"c":80,"r":-2.0625,"t":"1","k":"wed"},{"c":81,"r":-2.0625,"t":"1","k":"wed"},
{"c":0,"r":-1.125,"t":"8","k":"sun"},{"c":1,"r":-1.125,"t":"9","k":"sun"},{"c":2,"r":-1.125,"t":"0","k":"sun"},{"c":3,"r":-1.125,"t":"1","k":"sun"},{"c":4,"r":-1.125,"t":"2","k":"sun"},{"c":5,"r":-1.125,"t":"3","k":"sun"},{"c":6,"r":-1.125,"t":"4","k":"sun"},{"c":7,"r":-1.125,"t":"5","k":"sun"},{"c":8,"r":-1.125,"t":"6","k":"sun"},{"c":9,"r":-1.125,"t":"7","k":"sun"},{"c":10,"r":-1.125,"t":"8","k":"sun"},{"c":11,"r":-1.125,"t":"9","k":"sun"},{"c":12,"r":-1.125,"t":"0","k":"sun"},{"c":13,"r":-1.125,"t":"1","k":"sun"},{"c":14,"r":-1.125,"t":"2","k":"sun"},{"c":15,"r":-1.125,"t":"3","k":"sun"},
{"c":16,"r":-1.125,"t":"0","k":"mon"},{"c":17,"r":-1.125,"t":"1","k":"mon"},{"c":18,"r":-1.125,"t":"2","k":"mon"},{"c":19,"r":-1.125,"t":"3","k":"mon"},{"c":20,"r":-1.125,"t":"4","k":"mon"},{"c":21,"r":-1.125,"t":"5","k":"mon"},{"c":22,"r":-1.125,"t":"6","k":"mon"},{"c":23,"r":-1.125,"t":"7","k":"mon"},{"c":24,"r":-1.125,"t":"8","k":"mon"},{"c":25,"r":-1.125,"t":"9","k":"mon"},{"c":26,"r":-1.125,"t":"0","k":"mon"},{"c":27,"r":-1.125,"t":"1","k":"mon"},{"c":28,"r":-1.125,"t":"2","k":"mon"},{"c":29,"r":-1.125,"t":"3","k":"mon"},{"c":30,"r":-1.125,"t":"4","k":"mon"},{"c":31,"r":-1.125,"t":"5","k":"mon"},{"c":32,"r":-1.125,"t":"6","k":"mon"},{"c":33,"r":-1.125,"t":"7","k":"mon"},{"c":34,"r":-1.125,"t":"8","k":"mon"},{"c":35,"r":-1.125,"t":"9","k":"mon"},{"c":36,"r":-1.125,"t":"0","k":"mon"},{"c":37,"r":-1.125,"t":"1","k":"mon"},{"c":38,"r":-1.125,"t":"2","k":"mon"},{"c":39,"r":-1.125,"t":"3","k":"mon"},
{"c":40,"r":-1.125,"t":"0","k":"tue"},{"c":41,"r":-1.125,"t":"1","k":"tue"},{"c":42,"r":-1.125,"t":"2","k":"tue"},{"c":43,"r":-1.125,"t":"3","k":"tue"},{"c":44,"r":-1.125,"t":"4","k":"tue"},{"c":45,"r":-1.125,"t":"5","k":"tue"},{"c":46,"r":-1.125,"t":"6","k":"tue"},{"c":47,"r":-1.125,"t":"7","k":"tue"},{"c":48,"r":-1.125,"t":"8","k":"tue"},{"c":49,"r":-1.125,"t":"9","k":"tue"},{"c":50,"r":-1.125,"t":"0","k":"tue"},{"c":51,"r":-1.125,"t":"1","k":"tue"},{"c":52,"r":-1.125,"t":"2","k":"tue"},{"c":53,"r":-1.125,"t":"3","k":"tue"},{"c":54,"r":-1.125,"t":"4","k":"tue"},{"c":55,"r":-1.125,"t":"5","k":"tue"},{"c":56,"r":-1.125,"t":"6","k":"tue"},{"c":57,"r":-1.125,"t":"7","k":"tue"},{"c":58,"r":-1.125,"t":"8","k":"tue"},{"c":59,"r":-1.125,"t":"9","k":"tue"},{"c":60,"r":-1.125,"t":"0","k":"tue"},{"c":61,"r":-1.125,"t":"1","k":"tue"},{"c":62,"r":-1.125,"t":"2","k":"tue"},{"c":63,"r":-1.125,"t":"3","k":"tue"},
{"c":64,"r":-1.125,"t":"0","k":"wed"},{"c":65,"r":-1.125,"t":"1","k":"wed"},{"c":66,"r":-1.125,"t":"2","k":"wed"},{"c":67,"r":-1.125,"t":"3","k":"wed"},{"c":68,"r":-1.125,"t":"4","k":"wed"},{"c":69,"r":-1.125,"t":"5","k":"wed"},{"c":70,"r":-1.125,"t":"6","k":"wed"},{"c":71,"r":-1.125,"t":"7","k":"wed"},{"c":72,"r":-1.125,"t":"8","k":"wed"},{"c":73,"r":-1.125,"t":"9","k":"wed"},{"c":74,"r":-1.125,"t":"0","k":"wed"},{"c":75,"r":-1.125,"t":"1","k":"wed"},{"c":76,"r":-1.125,"t":"2","k":"wed"},{"c":77,"r":-1.125,"t":"3","k":"wed"},{"c":78,"r":-1.125,"t":"4","k":"wed"},{"c":79,"r":-1.125,"t":"5","k":"wed"},{"c":80,"r":-1.125,"t":"6","k":"wed"},{"c":81,"r":-1.125,"t":"7","k":"wed"},
{"c":0,"r":14.19,"t":"2","k":"wed"},{"c":1,"r":14.19,"t":"2","k":"wed"},
{"c":5,"r":14.19,"t":"1","k":"thu"},{"c":6,"r":14.19,"t":"1","k":"thu"},{"c":7,"r":14.19,"t":"1","k":"thu"},{"c":8,"r":14.19,"t":"2","k":"thu"},{"c":9,"r":14.19,"t":"2","k":"thu"},
{"c":13,"r":14.19,"t":"1","k":"sun"},{"c":14,"r":14.19,"t":"1","k":"sun"},{"c":15,"r":14.19,"t":"1","k":"sun"},{"c":16,"r":14.19,"t":"2","k":"sun"},{"c":17,"r":14.19,"t":"2","k":"sun"},
{"c":21,"r":14.19,"t":"1","k":"mon"},{"c":22,"r":14.19,"t":"1","k":"mon"},{"c":23,"r":14.19,"t":"1","k":"mon"},{"c":24,"r":14.19,"t":"2","k":"mon"},{"c":25,"r":14.19,"t":"2","k":"mon"},
{"c":29,"r":14.19,"t":"1","k":"tue"},{"c":30,"r":14.19,"t":"1","k":"tue"},{"c":31,"r":14.19,"t":"1","k":"tue"},{"c":32,"r":14.19,"t":"2","k":"tue"},{"c":33,"r":14.19,"t":"2","k":"tue"},
{"c":37,"r":14.19,"t":"1","k":"wed"},{"c":38,"r":14.19,"t":"1","k":"wed"},{"c":39,"r":14.19,"t":"1","k":"wed"},{"c":40,"r":14.19,"t":"2","k":"wed"},{"c":41,"r":14.19,"t":"2","k":"wed"},
{"c":45,"r":14.19,"t":"1","k":"thu"},{"c":46,"r":14.19,"t":"1","k":"thu"},{"c":47,"r":14.19,"t":"1","k":"thu"},
{"c":0,"r":15.125,"t":"0","k":"wed"},{"c":1,"r":15.125,"t":"3","k":"wed"},
{"c":2,"r":15.125,"t":"2","k":"thu"},{"c":3,"r":15.125,"t":"5","k":"thu"},{"c":4,"r":15.125,"t":"8","k":"thu"},{"c":5,"r":15.125,"t":"1","k":"thu"},{"c":6,"r":15.125,"t":"4","k":"thu"},{"c":7,"r":15.125,"t":"7","k":"thu"},{"c":8,"r":15.125,"t":"0","k":"thu"},{"c":9,"r":15.125,"t":"3","k":"thu"},
{"c":10,"r":15.125,"t":"2","k":"sun"},{"c":11,"r":15.125,"t":"5","k":"sun"},{"c":12,"r":15.125,"t":"8","k":"sun"},{"c":13,"r":15.125,"t":"1","k":"sun"},{"c":14,"r":15.125,"t":"4","k":"sun"},{"c":15,"r":15.125,"t":"7","k":"sun"},{"c":16,"r":15.125,"t":"0","k":"sun"},{"c":17,"r":15.125,"t":"3","k":"sun"},
{"c":18,"r":15.125,"t":"2","k":"mon"},{"c":19,"r":15.125,"t":"5","k":"mon"},{"c":20,"r":15.125,"t":"8","k":"mon"},{"c":21,"r":15.125,"t":"1","k":"mon"},{"c":22,"r":15.125,"t":"4","k":"mon"},{"c":23,"r":15.125,"t":"7","k":"mon"},{"c":24,"r":15.125,"t":"0","k":"mon"},{"c":25,"r":15.125,"t":"3","k":"mon"},
{"c":26,"r":15.125,"t":"2","k":"tue"},{"c":27,"r":15.125,"t":"5","k":"tue"},{"c":28,"r":15.125,"t":"8","k":"tue"},{"c":29,"r":15.125,"t":"1","k":"tue"},{"c":30,"r":15.125,"t":"4","k":"tue"},{"c":31,"r":15.125,"t":"7","k":"tue"},{"c":32,"r":15.125,"t":"0","k":"tue"},{"c":33,"r":15.125,"t":"3","k":"tue"},
{"c":34,"r":15.125,"t":"2","k":"wed"},{"c":35,"r":15.125,"t":"5","k":"wed"},{"c":36,"r":15.125,"t":"8","k":"wed"},{"c":37,"r":15.125,"t":"1","k":"wed"},{"c":38,"r":15.125,"t":"4","k":"wed"},{"c":39,"r":15.125,"t":"7","k":"wed"},{"c":40,"r":15.125,"t":"0","k":"wed"},{"c":41,"r":15.125,"t":"3","k":"wed"},
{"c":42,"r":15.125,"t":"2","k":"thu"},{"c":43,"r":15.125,"t":"5","k":"thu"},{"c":44,"r":15.125,"t":"8","k":"thu"},{"c":45,"r":15.125,"t":"1","k":"thu"},{"c":46,"r":15.125,"t":"4","k":"thu"},{"c":47,"r":15.125,"t":"7","k":"thu"}
],
"titles":[{"c":16.143,"r":-4.44,"t":"Mount Wilson Observatory","k":"mon"},{"c":42.714,"r":-4.44,"t":"Clear Sky Chart","k":"teal"}],
"labels":[
{"c":-9,"r":-0.125,"t":"Cloud Cover:","k":"white"},{"c":-9,"r":0.875,"t":"ECMWF Cloud:","k":"white"},{"c":-9,"r":1.875,"t":"Transparency:","k":"white"},{"c":-9,"r":2.875,"t":"Seeing:","k":"white"},{"c":-9,"r":3.875,"t":"Darkness:","k":"brown"},
{"c":-9,"r":6.875,"t":"Smoke:","k":"white"},{"c":-9,"r":7.875,"t":"Wind:","k":"white"},{"c":-9,"r":8.875,"t":"Humidity:","k":"white"},{"c":-9,"r":9.875,"t":"Temperature:","k":"white"},
{"c":-9,"r":16.125,"t":"Cloud Cover:","k":"white"},{"c":-9,"r":17.125,"t":"ECMWF Cloud:","k":"white"},{"c":-9,"r":18.125,"t":"Darkness:","k":"brown"},
{"c":-9.857,"r":-3,"t":"2026-07-19","k":"sun"},{"c":-9.857,"r":-2.0625,"t":"Local Time","k":"local"},
{"c":1.571,"r":-3,"t":"Sunday, 19","k":"sun"},{"c":25.571,"r":-3,"t":"Monday, 20","k":"mon"},{"c":49.571,"r":-3,"t":"Tuesday, 21","k":"tue"},{"c":73.357,"r":-3,"t":"Wednesday, 22","k":"wed"},
{"c":-10,"r":12.06,"t":"EXTENDED Forecast. Each block is 3 hours. (A sponsored feature)","k":"red"},
{"c":-9.857,"r":13.25,"t":"2026-07-22","k":"wed"},{"c":-9.857,"r":14.19,"t":"Local Time","k":"local"},
{"c":-0.357,"r":13.25,"t":"W","k":"wed"},{"c":4.214,"r":13.25,"t":"Thu, 23","k":"thu"},{"c":12.214,"r":13.25,"t":"Fri, 24","k":"sun"},{"c":20.214,"r":13.25,"t":"Sat, 25","k":"mon"},{"c":28.214,"r":13.25,"t":"Sun, 26","k":"tue"},{"c":36.214,"r":13.25,"t":"Mon, 27","k":"wed"},{"c":43.214,"r":13.25,"t":"Tue, 28","k":"thu"},
{"c":10.214,"r":20.81,"t":"© 2026 Attilla Danko","k":"white"},{"c":24.357,"r":20.81,"t":"forecast: A.Rahill","k":"white"},{"c":37.214,"r":20.81,"t":"data:","k":"white"}
],
"small":[{"c":-9.76,"r":-1.33,"t":"(GMT -7+0)","k":"mon"},{"c":-9.76,"r":14.94,"t":"(GMT -7+0)","k":"mon"}],
"tags":[{"c":-9.5714286,"r":2.06,"t":"Sky","k":"mon"},{"c":-9.5714286,"r":8.5,"t":"- Ground -","k":"white"},{"c":-9.5714286,"r":17.25,"t":"- Sky -","k":"mon"}],
"dashes":[{"c":-9.5714286,"r":0.4375,"t":"--","k":"mon"},{"c":-9.5714286,"r":3.5625,"t":"--","k":"mon"}],
"logotext":[{"c":52.43,"r":20.6,"t":"Environment","k":"black"},{"c":52.43,"r":21.06,"t":"Canada","k":"black"},{"c":57.07,"r":20.6,"t":"Environnement","k":"black"},{"c":57.07,"r":21.06,"t":"Canada","k":"black"}]
},
"encoding":{
"x":{"field":"c","type":"quantitative","axis":null,"scale":{"domain":[-10,81.7142857143],"nice":false,"zero":false}},
"y":{"field":"r","type":"quantitative","axis":null,"scale":{"domain":[21.3125,-5.1875],"nice":false,"zero":false}},
"color":{"field":"k","type":"nominal","legend":null,"scale":{
"domain":["L0","L1","L2","L3","L4","L5","L6","L7","L8","L9","L10","H0","H1","H2","H3","T0","T1","T2","T3","D0","D1","D2","D3","D4","D5","D6","D7","D8","D9","D10","D11","D12","D13","white","black","red","blue","olive","sun","mon","tue","wed","thu","teal","local","brown"],
"range":["#003F7F","#0F4C8C","#1B5898","#2C6CAC","#3F7FBF","#4F8FCF","#639FDF","#77B7F7","#96D6D6","#C3C3C3","#FFFFFF","#82BDBD","#00FFEE","#5AFFB4","#96FF64","#FFA000","#FF5A00","#FF2200","#E00000","#FFFFFF","#FFF8F0","#FFF0DC","#FFE4C0","#FFD090","#FBB050","#00D0E0","#0068E8","#0048C8","#0020A0","#001080","#000C6C","#000860","#000555","#FFFFFF","#000000","#FF0000","#0064FF","#5A6E00","#66FF77","#FFFF00","#FF7070","#FF00FF","#7070F0","#00C8C8","#C8C800","#A52A2A"]}}
},
"layer":[
{"data":{"name":"bands"},"mark":{"type":"rect","width":12},"encoding":{"y2":{"field":"r2"}}},
{"data":{"name":"cells"},"mark":{"type":"rect","width":12,"height":12}},
{"data":{"name":"cells"},"transform":[{"filter":"datum.j === 1"}],"mark":{"type":"rect","width":2,"height":4,"xOffset":7}},
{"data":{"name":"dusk"},"transform":[{"filter":"datum.s === 0"}],"mark":{"type":"rect","width":3,"height":12,"xOffset":-4.5}},
{"data":{"name":"dusk"},"transform":[{"filter":"datum.s === 1"}],"mark":{"type":"rect","width":3,"height":12,"xOffset":-1.5}},
{"data":{"name":"dusk"},"transform":[{"filter":"datum.s === 2"}],"mark":{"type":"rect","width":3,"height":12,"xOffset":1.5}},
{"data":{"name":"dusk"},"transform":[{"filter":"datum.s === 3"}],"mark":{"type":"rect","width":3,"height":12,"xOffset":4.5}},
{"data":{"name":"nights"},"mark":{"type":"rule","strokeWidth":2,"xOffset":-6},"encoding":{"y2":{"field":"r2"}}},
{"data":{"name":"logo"},"mark":{"type":"rect"},"encoding":{"x2":{"field":"c2"},"y2":{"field":"r2"}}},
{"data":{"name":"leaf"},"mark":{"type":"point","filled":true,"opacity":1,"size":130,"shape":"M0,-1 L0.2,-0.55 L0.45,-0.7 L0.35,-0.2 L0.8,-0.35 L0.7,-0.05 L1,0.1 L0.55,0.45 L0.6,0.6 L0.08,0.55 L0.08,1 L-0.08,1 L-0.08,0.55 L-0.6,0.6 L-0.55,0.45 L-1,0.1 L-0.7,-0.05 L-0.8,-0.35 L-0.35,-0.2 L-0.45,-0.7 L-0.2,-0.55 Z"}},
{"data":{"name":"hours"},"transform":[{"filter":"datum.t !== '0'"}],"mark":{"type":"text","font":"Liberation Mono","fontSize":15,"align":"center","baseline":"middle"},"encoding":{"text":{"field":"t"}}},
{"data":{"name":"hours"},"transform":[{"filter":"datum.t === '0'"}],"mark":{"type":"text","font":"Liberation Sans","fontSize":15,"align":"center","baseline":"middle"},"encoding":{"text":{"field":"t"}}},
{"data":{"name":"titles"},"mark":{"type":"text","font":"Liberation Mono","fontWeight":"bold","fontSize":20,"align":"left","baseline":"middle"},"encoding":{"text":{"field":"t"}}},
{"data":{"name":"labels"},"mark":{"type":"text","font":"Liberation Mono","fontSize":15,"align":"left","baseline":"middle","dy":-1},"encoding":{"text":{"field":"t"}}},
{"data":{"name":"small"},"mark":{"type":"text","font":"Liberation Mono","fontWeight":"bold","fontSize":8,"align":"left","baseline":"middle"},"encoding":{"text":{"field":"t"}}},
{"data":{"name":"tags"},"mark":{"type":"text","font":"Liberation Mono","fontSize":10,"angle":270,"align":"center","baseline":"middle"},"encoding":{"text":{"field":"t"}}},
{"data":{"name":"dashes"},"mark":{"type":"text","font":"Liberation Mono","fontSize":14,"angle":270,"align":"center","baseline":"middle"},"encoding":{"text":{"field":"t"}}},
{"data":{"name":"logotext"},"mark":{"type":"text","font":"Liberation Sans","fontSize":9,"align":"left","baseline":"middle"},"encoding":{"text":{"field":"t"}}}
]}
